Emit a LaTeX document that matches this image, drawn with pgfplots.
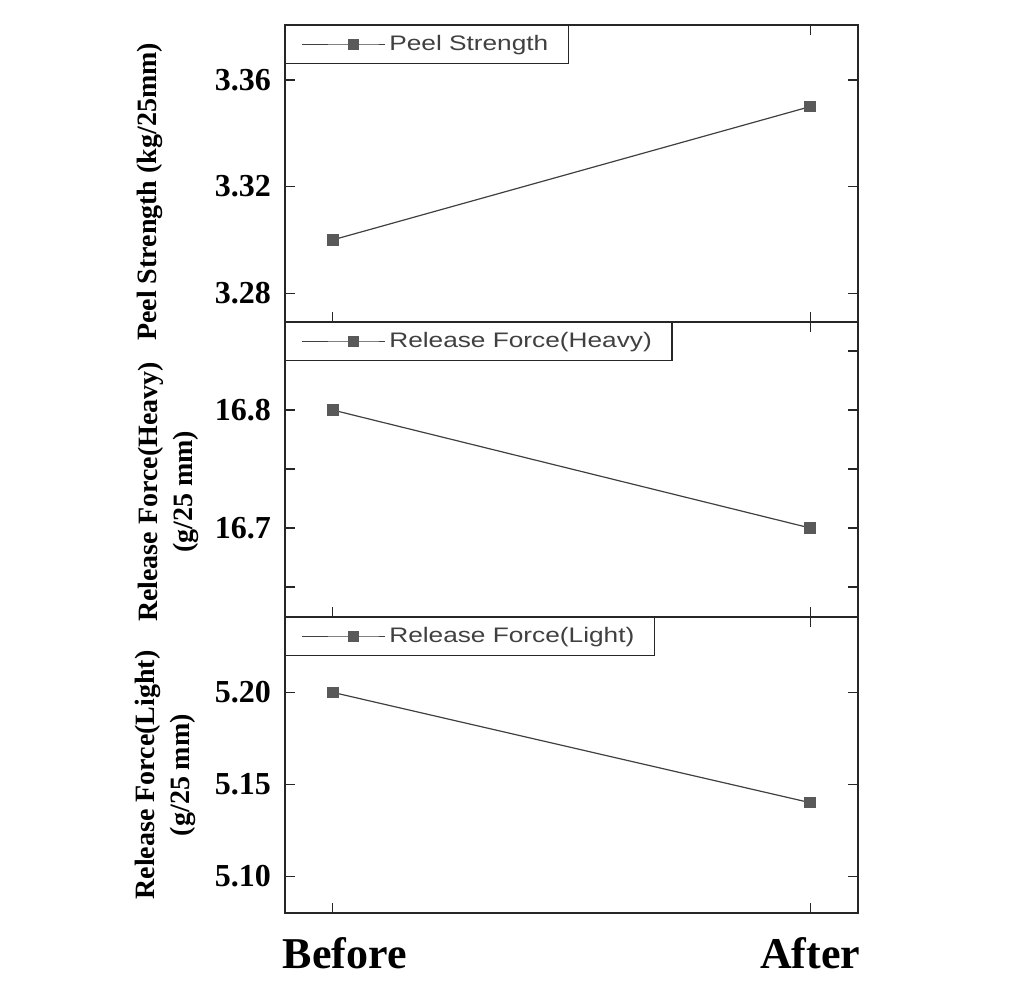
\documentclass[border=0pt]{standalone}
\usepackage{pgfplots}
\pgfplotsset{compat=1.18}
\usepackage{fontspec}
\setmainfont{Liberation Serif}
\newfontfamily\legfont[FakeStretch=1.25]{Liberation Sans}

\definecolor{framecol}{gray}{0.15}
\definecolor{markcol}{gray}{0.35}
\definecolor{linecol}{gray}{0.25}

\pgfplotsset{
  panel/.style={
    scale only axis,
    width=286.5pt,
    xmin=-0.1, xmax=1.1,
    xtick={0,1}, xticklabels={},
    axis line style={framecol, line width=1.1pt},
    major tick length=5pt, minor tick length=5pt,
    tick style={framecol, line width=0.7pt},
    /pgf/number format/assume math mode=true,
    yticklabel style={font=\bfseries\fontsize{16}{18}\selectfont, xshift=-3.5pt},
    ylabel style={font=\bfseries\fontsize{14}{17.5}\selectfont, align=center, anchor=center},
    legend style={at={(0,1)}, anchor=north west, draw=framecol, line width=0.6pt,
      font=\legfont\fontsize{10.5}{12}\selectfont, text=black!75,
      inner xsep=8pt, inner ysep=3pt},
    legend image code/.code={
      \path (0cm,0cm) -- (1.45cm,0cm);
      \draw[gray, line width=0.5pt, mark repeat=2, mark phase=2]
        plot coordinates {(0.45cm,0cm) (0.9cm,0cm) (1.35cm,0cm)};
    },
  },
  series/.style={color=linecol, line width=0.6pt, mark=square*, mark size=2.6pt,
    mark options={fill=markcol, draw=markcol, solid}},
}

\begin{document}
\begin{tikzpicture}

% top: peel strength
\begin{axis}[panel, at={(142.5pt,332.5pt)}, anchor=south west, height=148.5pt,
  ymin=3.2692, ymax=3.3806,
  ytick={3.28,3.32,3.36}, yticklabels={3.28,3.32,3.36},
  ylabel={Peel Strength (kg/25mm)},
  ylabel style={at={(axis description cs:-0.2356,0.438)}}]
\addplot[series] coordinates {(0,3.30) (1,3.35)};
\addlegendentry{Peel Strength}
\end{axis}

% middle: release force heavy
\begin{axis}[panel, at={(142.5pt,185pt)}, anchor=south west, height=147.5pt,
  ymin=16.6246, ymax=16.8746,
  ytick={16.7,16.8}, yticklabels={16.7,16.8},
  minor ytick={16.65,16.75,16.85},
  ylabel={Release Force(Heavy)\\(g/25 mm)},
  ylabel style={at={(axis description cs:-0.2033,0.424)}}]
\addplot[series] coordinates {(0,16.8) (1,16.7)};
\addlegendentry{Release Force(Heavy)}
\end{axis}

% bottom: release force light
\begin{axis}[panel, at={(142.5pt,37pt)}, anchor=south west, height=148pt,
  ymin=5.08, ymax=5.241,
  ytick={5.10,5.15,5.20}, yticklabels={5.10,5.15,5.20},
  xticklabels={{\hspace*{12pt}Before},After},
  xticklabel style={font=\bfseries\fontsize{22}{26}\selectfont, yshift=-8.5pt},
  ylabel={Release Force(Light)\\(g/25 mm)},
  ylabel style={at={(axis description cs:-0.2086,0.466)}}]
\addplot[series] coordinates {(0,5.20) (1,5.14)};
\addlegendentry{Release Force(Light)}
\end{axis}

\pgfresetboundingbox
\path[use as bounding box] (0,0) rectangle (512.5pt,493.5pt);
\end{tikzpicture}
\end{document}
